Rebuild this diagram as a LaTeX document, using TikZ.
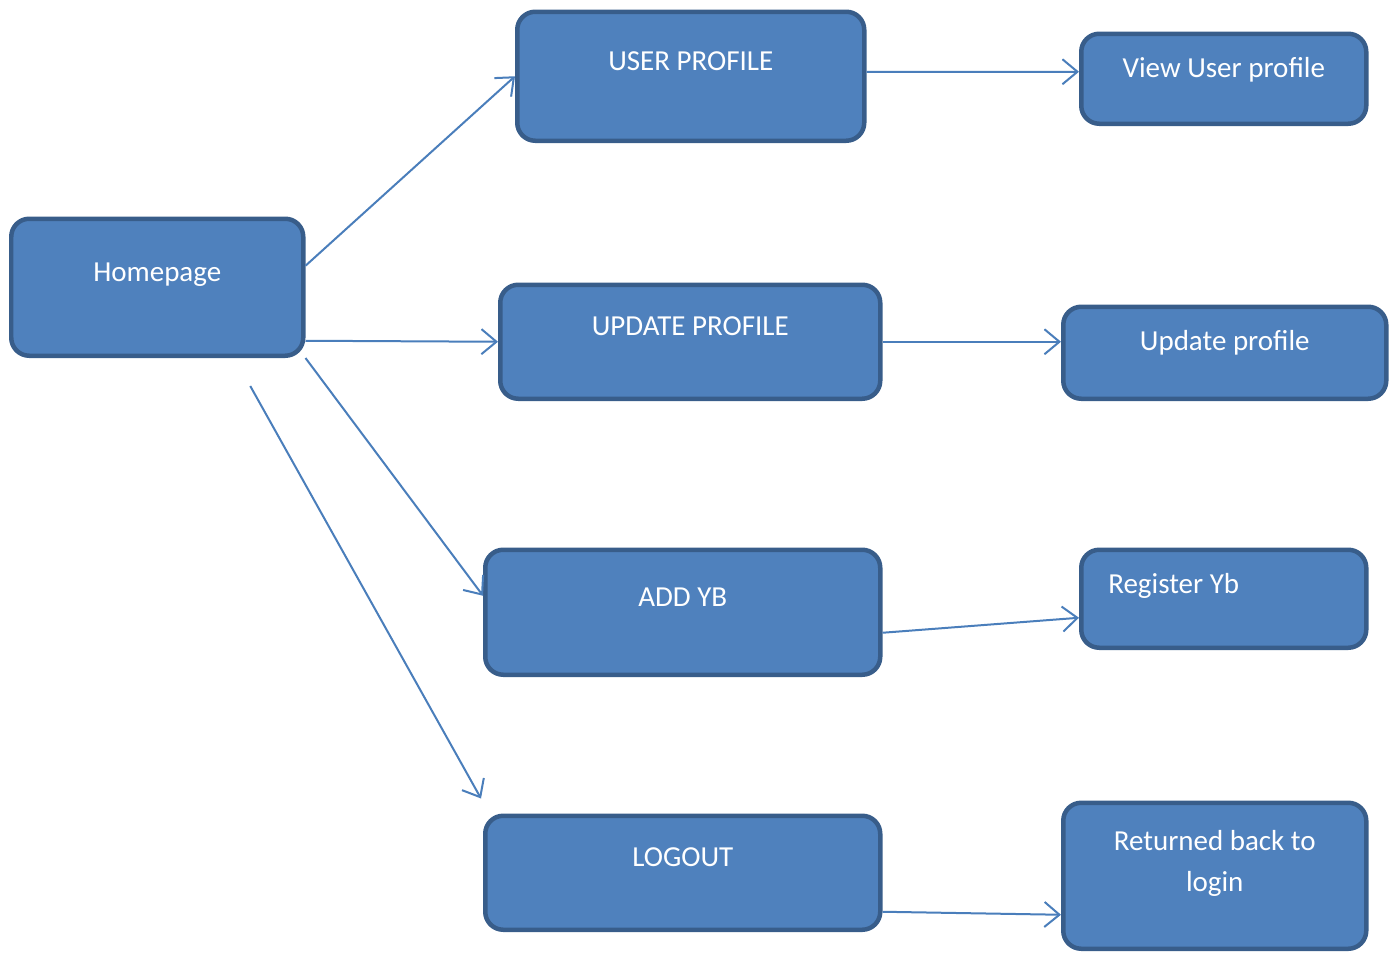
\documentclass[tikz,border=0pt]{standalone}
\usepackage{fontspec}
\setmainfont{Carlito}
\usepackage{tikz}
\usetikzlibrary{arrows.meta}
\definecolor{boxfill}{HTML}{4F81BD}
\definecolor{boxline}{HTML}{385D8A}
\definecolor{linkline}{HTML}{4A7EBB}
\tikzset{box/.style={rectangle, rounded corners=0.36cm, draw=boxline, fill=boxfill,
      line width=0.09cm, text=white, inner sep=0pt, anchor=north west,
      font=\fontsize{16.5}{23.3}\selectfont}}
\tikzset{link/.style={draw=linkline, line width=0.04cm,
      -{Straight Barb[length=0.3cm,width=0.5cm]}}}

\begin{document}
\begin{tikzpicture}
		\useasboundingbox (0.06,-0.07) rectangle (27.86,-19.15);
		% left column
		\node[box, minimum width=5.84cm, text height=1.26cm, text depth=1.48cm] (home) at (0.24,-4.40) {Homepage};
		% middle column
		\node[box, minimum width=6.94cm, text height=1.18cm, text depth=1.40cm] (user) at (10.36,-0.26) {USER PROFILE};
		\node[box, minimum width=7.60cm, text height=1.02cm, text depth=1.26cm] (upd) at (10.02,-5.72) {UPDATE PROFILE};
		\node[box, minimum width=7.90cm, text height=1.14cm, text depth=1.36cm] (add) at (9.72,-11.02) {ADD YB};
		\node[box, minimum width=7.90cm, text height=1.02cm, text depth=1.26cm] (logout) at (9.72,-16.34) {LOGOUT};
		% right column
		\node[box, minimum width=5.70cm, text height=0.88cm, text depth=0.92cm] (view) at (21.64,-0.70) {View User profile};
		\node[box, minimum width=6.46cm, text height=0.88cm, text depth=0.96cm] (updp) at (21.28,-6.16) {Update profile};
		\node[box, inner xsep=0.54cm, text width=4.62cm, align=flush left, text height=0.88cm, text depth=1.08cm] (reg) at (21.64,-11.02) {Register Yb};
		\node[box, text width=6.06cm, align=flush center, text height=0.96cm, text depth=1.96cm] (ret) at (21.28,-16.08) {Returned back to\\login};
		% free ends of the logout arrow
		\coordinate (lgA) at ([shift={(1.86,-0.56)}]home.south);
		\coordinate (lgB) at ([shift={(-0.04,0.30)}]logout.north west);
		% arrows
		\draw[link] ([yshift=0.43cm]home.east) -- (user.west);
		\draw[link] ([yshift=-1.07cm]home.east) -- (upd.west);
		\draw[link] (home.south east) -- ([yshift=0.33cm]add.west);
		\draw[link] (lgA) -- (lgB);
		\draw[link] ([yshift=0.09cm]user.east) -- ([yshift=0.14cm]view.west);
		\draw[link] (upd.east) -- (upd.east -| updp.west);
		\draw[link] ([yshift=-0.41cm]add.east) -- ([yshift=-0.38cm]reg.west);
		\draw[link] ([yshift=-0.78cm]logout.east) -- ([yshift=-0.78cm]ret.west);
\end{tikzpicture}
\end{document}
